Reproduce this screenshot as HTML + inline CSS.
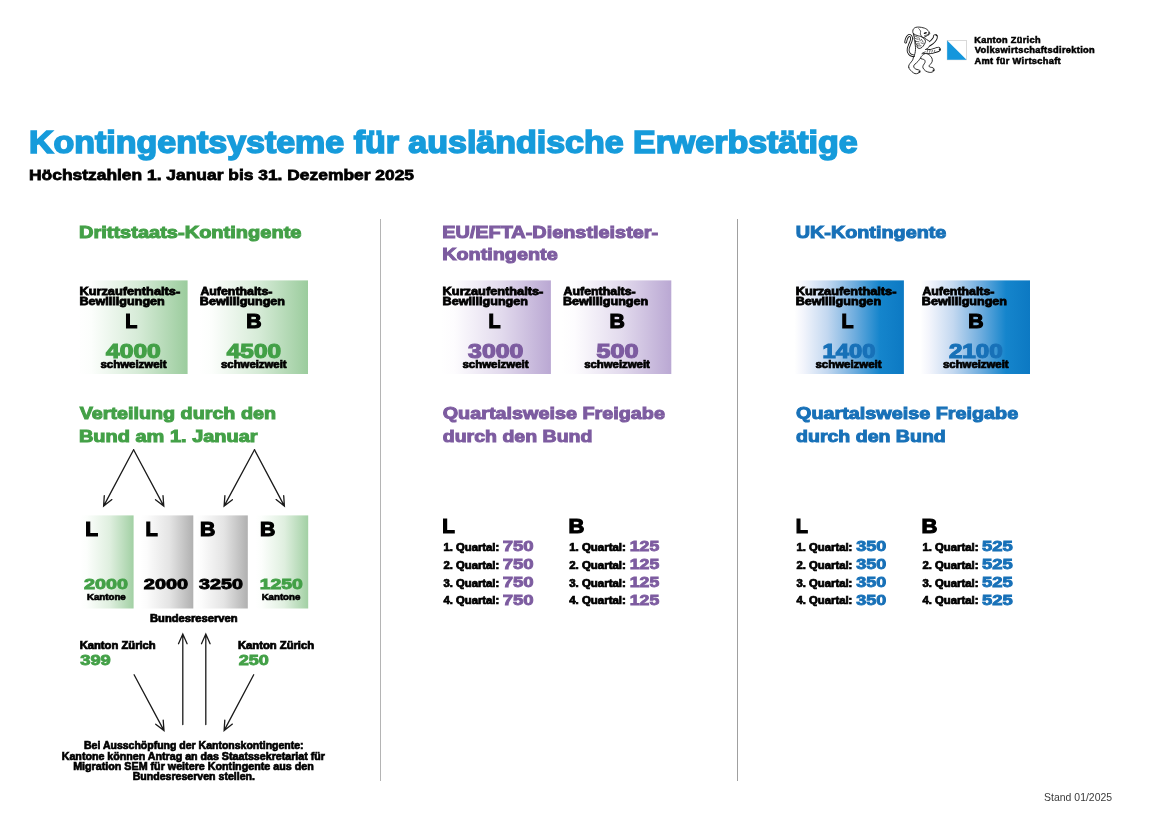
<!DOCTYPE html>
<html lang="de">
<head>
<meta charset="utf-8">
<title>Kontingentsysteme für ausländische Erwerbstätige</title>
<style>
html,body{margin:0;padding:0;background:#fff;}
body{width:1152px;height:814px;overflow:hidden;}
svg{display:block;}
svg text{font-family:"Liberation Sans",Arial,Helvetica,sans-serif;font-weight:bold;white-space:pre;}
</style>
</head>
<body>
<svg width="1152" height="814" viewBox="0 0 1152 814">
<defs>
<linearGradient id="gG" x1="0" x2="1" y1="0" y2="0"><stop offset="0" stop-color="#ffffff"/><stop offset="0.12" stop-color="#fcfefc"/><stop offset="0.55" stop-color="#d6ebd7"/><stop offset="1" stop-color="#9bcc9d"/></linearGradient>
<linearGradient id="gP" x1="0" x2="1" y1="0" y2="0"><stop offset="0" stop-color="#ffffff"/><stop offset="0.12" stop-color="#fdfcfe"/><stop offset="0.55" stop-color="#e2daed"/><stop offset="1" stop-color="#baa8d3"/></linearGradient>
<linearGradient id="gB" x1="0" x2="1" y1="0" y2="0"><stop offset="0" stop-color="#ffffff"/><stop offset="0.08" stop-color="#f3f5fc"/><stop offset="0.3" stop-color="#c3d8f0"/><stop offset="0.55" stop-color="#6fadde"/><stop offset="0.78" stop-color="#1585cc"/><stop offset="1" stop-color="#0c79c3"/></linearGradient>
<linearGradient id="gK" x1="0" x2="1" y1="0" y2="0"><stop offset="0" stop-color="#ffffff"/><stop offset="0.12" stop-color="#fcfcfc"/><stop offset="0.55" stop-color="#e4e4e4"/><stop offset="1" stop-color="#b0b0b0"/></linearGradient>
<linearGradient id="gG2" x1="0" x2="1" y1="0" y2="0"><stop offset="0" stop-color="#ffffff"/><stop offset="0.12" stop-color="#fcfefc"/><stop offset="0.55" stop-color="#dfefdf"/><stop offset="1" stop-color="#a2d0a4"/></linearGradient>
</defs>
<!-- column dividers -->
<rect x="380" y="219" width="1" height="562" fill="#b4b4b4"/>
<rect x="737" y="219" width="1" height="562" fill="#a0a0a0"/>
<!-- logo -->
<g id="logo">
<g id="lion" stroke-linecap="round" stroke-linejoin="round" transform="translate(896 20) scale(0.07369)">
<path d="M262 492C252 489 215 483 200 474C185 465 176 452 170 438C164 424 163 406 166 388C169 370 179 348 186 330C193 312 202 295 206 280C210 265 213 250 210 238C207 226 198 213 190 210C182 207 171 212 163 220C155 228 146 245 141 258C136 271 133 293 131 300" stroke="#141414" stroke-width="38" fill="none"/>
<path d="M262 492C252 489 215 483 200 474C185 465 176 452 170 438C164 424 163 406 166 388C169 370 179 348 186 330C193 312 202 295 206 280C210 265 213 250 210 238C207 226 198 213 190 210C182 207 171 212 163 220C155 228 146 245 141 258C136 271 133 293 131 300" stroke="#fff" stroke-width="14" fill="none"/>
<path d="M243 495C232 508 234 529 225 545C216 561 199 577 190 590C181 603 174 613 172 625C170 637 173 648 180 660C187 672 202 689 215 700C228 711 244 724 258 728C272 732 289 727 300 722C311 717 322 707 325 700C328 693 325 685 318 680C311 675 296 676 285 672C274 668 260 663 252 655C244 647 239 634 240 625C241 616 248 609 258 598C268 587 288 576 300 560C312 544 332 520 330 505C328 490 304 472 290 470C276 468 254 482 243 495Z" stroke="#141414" stroke-width="12" fill="#fff"/>
<path d="M380 424C395 425 444 430 470 428C496 426 518 415 535 410C552 405 566 400 572 398" stroke="#141414" stroke-width="70" fill="none"/>
<path d="M380 424C395 425 444 430 470 428C496 426 518 415 535 410C552 405 566 400 572 398" stroke="#fff" stroke-width="46" fill="none"/>
<path d="M410 350C423 342 468 316 488 300C508 284 520 264 528 252C536 240 533 230 534 226" stroke="#141414" stroke-width="66" fill="none"/>
<path d="M410 350C423 342 468 316 488 300C508 284 520 264 528 252C536 240 533 230 534 226" stroke="#fff" stroke-width="42" fill="none"/>
<path d="M245 200L250 250L258 310L265 370L262 430L250 480L262 520L335 522L356 452L396 434L400 400L440 376L452 288L415 262L370 232L300 195Z" fill="#fff" stroke="none"/>
<path d="M245 200C246 208 248 232 250 250C252 268 256 290 258 310C260 330 264 350 265 370C266 390 264 412 262 430C260 448 253 467 250 478C247 489 245 495 244 498" stroke="#141414" stroke-width="12" fill="none"/>
<path d="M440 376C437 378 427 386 420 390C413 394 403 398 400 400" stroke="#141414" stroke-width="12" fill="none"/>
<path d="M396 434C392 436 377 440 370 444C363 448 355 454 352 456" stroke="#141414" stroke-width="12" fill="none"/>
<path d="M370 234C378 239 401 255 415 264C429 273 446 284 452 288" stroke="#141414" stroke-width="12" fill="none"/>
<path d="M335 522C330 513 341 496 352 485C363 474 383 457 400 455C417 453 438 465 452 475C466 485 479 501 486 515C493 529 495 546 492 560C489 574 476 589 468 600C460 611 446 618 446 625C446 632 456 636 466 640C476 644 496 643 505 650C514 657 520 671 518 680C516 689 503 701 492 706C481 711 465 713 450 710C435 707 414 700 400 690C386 680 371 662 366 650C361 638 365 628 370 615C375 602 392 588 394 575C396 562 395 549 385 540C375 531 340 531 335 522Z" stroke="#141414" stroke-width="12" fill="#fff"/>
<path d="M238 185C228 196 249 222 250 235C251 248 241 254 244 262C247 270 265 276 268 285C271 294 259 309 262 318C265 327 284 330 288 338C292 346 281 360 285 368C289 376 303 385 314 386C325 387 340 381 352 372C364 363 376 346 384 332C392 318 400 303 400 290C400 277 391 262 382 252C373 242 357 242 345 228C333 214 328 177 310 170C292 163 248 174 238 185Z" stroke="#141414" stroke-width="12" fill="#fff"/>
<path d="M238 188C226 177 228 162 228 150C228 138 233 126 240 118C247 110 256 104 268 100C280 96 297 96 310 96C323 96 332 98 345 100C358 102 372 105 385 110C398 115 410 120 420 128C430 136 439 147 445 155C451 163 458 171 458 178C458 185 454 193 448 198C442 203 431 204 425 208C419 212 417 218 410 222C403 226 392 229 385 232C378 235 376 240 368 238C360 236 349 226 338 222C327 218 317 221 300 215C283 209 250 199 238 188Z" stroke="#141414" stroke-width="12" fill="#fff"/>
<path d="M308 118C312 123 330 138 334 150C338 162 327 178 330 190C333 202 347 217 350 222" stroke="#141414" stroke-width="9.600000000000001" fill="none"/>
<path d="M390 210C395 209 411 207 420 205C429 203 441 199 445 198" stroke="#141414" stroke-width="9.600000000000001" fill="none"/>
<ellipse cx="398" cy="176" rx="22" ry="11" fill="#141414" transform="rotate(-15 398 176)"/>
<circle cx="444" cy="176" r="11" fill="#141414" stroke="none"/>
<path d="M252 215C258 218 284 229 290 232" stroke="#141414" stroke-width="9.0" fill="none"/>
<path d="M256 250C263 252 293 260 300 262" stroke="#141414" stroke-width="9.0" fill="none"/>
<path d="M270 290C277 291 305 295 312 296" stroke="#141414" stroke-width="9.0" fill="none"/>
<path d="M282 322C289 323 315 325 322 326" stroke="#141414" stroke-width="9.0" fill="none"/>
<path d="M300 352C307 352 333 350 340 350" stroke="#141414" stroke-width="9.0" fill="none"/>
<path d="M310 240C313 247 327 275 330 282" stroke="#141414" stroke-width="9.0" fill="none"/>
<path d="M345 262C349 268 364 294 368 300" stroke="#141414" stroke-width="9.0" fill="none"/>
<path d="M340 310C345 312 367 320 372 322" stroke="#141414" stroke-width="9.0" fill="none"/>
<path d="M430 412C429 416 423 434 422 438" stroke="#141414" stroke-width="8.399999999999999" fill="none"/>
<path d="M462 412C461 416 455 434 454 438" stroke="#141414" stroke-width="8.399999999999999" fill="none"/>
<path d="M494 412C493 416 487 434 486 438" stroke="#141414" stroke-width="8.399999999999999" fill="none"/>
<path d="M526 412C525 416 519 434 518 438" stroke="#141414" stroke-width="8.399999999999999" fill="none"/>
<circle cx="592" cy="398" r="12" fill="#141414" stroke="none"/>
<circle cx="548" cy="208" r="11" fill="#141414" stroke="none"/>
<circle cx="318" cy="704" r="13" fill="#141414" stroke="none"/>
<circle cx="508" cy="684" r="12" fill="#141414" stroke="none"/>
<circle cx="175" cy="640" r="7" fill="#141414" stroke="none"/>
</g>
<rect x="947.2" y="40.5" width="19.3" height="19.3" fill="#fff" stroke="#c9c9c9" stroke-width="0.7"/>
<path d="M947.2 40.5L966.5 59.8L947.2 59.8Z" fill="#1496dc"/>
</g>
<!-- gradient boxes -->
<rect x="78" y="280.4" width="109.6" height="93.6" fill="url(#gG)"/>
<rect x="198.4" y="280.4" width="109.6" height="93.6" fill="url(#gG)"/>
<rect x="441.2" y="280.4" width="109.7" height="93.6" fill="url(#gP)"/>
<rect x="561.6" y="280.4" width="109.7" height="93.6" fill="url(#gP)"/>
<rect x="794.3" y="280.4" width="109.6" height="93.6" fill="url(#gB)"/>
<rect x="920.4" y="280.4" width="109.6" height="93.6" fill="url(#gB)"/>
<rect x="80.4" y="515.4" width="53.2" height="93.1" fill="url(#gG2)"/>
<rect x="140.3" y="515.4" width="53.0" height="93.1" fill="url(#gK)"/>
<rect x="194.8" y="515.4" width="53.0" height="93.1" fill="url(#gK)"/>
<rect x="255.3" y="515.4" width="52.9" height="93.1" fill="url(#gG2)"/>
<!-- arrows -->
<g fill="none" stroke="#1a1a1a" stroke-width="1.3" stroke-linecap="round" stroke-linejoin="miter">
<path d="M133.6 449.7L103.6 506.1M111.9 499.6L103.6 506.1L104.3 495.6"/>
<path d="M133.6 449.7L163.8 506.1M163.0 495.6L163.8 506.1L155.5 499.7"/>
<path d="M254.5 449.7L224.1 506.1M232.4 499.7L224.1 506.1L224.9 495.6"/>
<path d="M254.5 449.7L284.4 506.1M283.7 495.6L284.4 506.1L276.1 499.6"/>
<path d="M182.8 724.5L182.8 634.1M178.5 643.7L182.8 634.1L187.1 643.7"/>
<path d="M205.8 724.5L205.8 634.1M201.5 643.7L205.8 634.1L210.1 643.7"/>
<path d="M134.1 674.7L164.0 730.6M163.2 720.1L164.0 730.6L155.7 724.2"/>
<path d="M253.7 674.7L224.1 730.6M232.4 724.1L224.1 730.6L224.8 720.1"/>
</g>
<!-- text -->
<text letter-spacing="0.299" transform="translate(974.23 42.54) scale(1.0787 1)" font-size="8.56" fill="#000" stroke="#000" stroke-width="0.51" stroke-linejoin="miter">Kanton Zürich</text>
<text letter-spacing="0.299" transform="translate(974.77 53.24) scale(1.0851 1)" font-size="8.56" fill="#000" stroke="#000" stroke-width="0.51" stroke-linejoin="miter">Volkswirtschaftsdirektion</text>
<text letter-spacing="0.299" transform="translate(974.50 63.94) scale(1.0846 1)" font-size="8.56" fill="#000" stroke="#000" stroke-width="0.51" stroke-linejoin="miter">Amt für Wirtschaft</text>
<text transform="translate(29.03 152.79) scale(1.0934 1)" font-size="31.08" fill="#169bdb" stroke="#169bdb" stroke-width="1.62" stroke-linejoin="miter">Kontingentsysteme für ausländische Erwerbstätige</text>
<text transform="translate(29.04 179.62) scale(1.1468 1)" font-size="15.18" fill="#000" stroke="#000" stroke-width="0.76" stroke-linejoin="miter">Höchstzahlen 1. Januar bis 31. Dezember 2025</text>
<text transform="translate(78.94 237.58) scale(1.1526 1)" font-size="17.38" fill="#43a047" stroke="#43a047" stroke-width="1.04" stroke-linejoin="miter">Drittstaats-Kontingente</text>
<text transform="translate(79.67 418.68) scale(1.1362 1)" font-size="17.38" fill="#43a047" stroke="#43a047" stroke-width="1.04" stroke-linejoin="miter">Verteilung durch den</text>
<text transform="translate(78.94 441.88) scale(1.1496 1)" font-size="17.38" fill="#43a047" stroke="#43a047" stroke-width="1.04" stroke-linejoin="miter">Bund am 1. Januar</text>
<text transform="translate(442.14 237.58) scale(1.1446 1)" font-size="17.38" fill="#7d5ca0" stroke="#7d5ca0" stroke-width="1.04" stroke-linejoin="miter">EU/EFTA-Dienstleister-</text>
<text transform="translate(442.14 260.38) scale(1.1403 1)" font-size="17.38" fill="#7d5ca0" stroke="#7d5ca0" stroke-width="1.04" stroke-linejoin="miter">Kontingente</text>
<text transform="translate(442.72 418.68) scale(1.1383 1)" font-size="17.38" fill="#7d5ca0" stroke="#7d5ca0" stroke-width="1.04" stroke-linejoin="miter">Quartalsweise Freigabe</text>
<text transform="translate(442.72 441.88) scale(1.1244 1)" font-size="17.38" fill="#7d5ca0" stroke="#7d5ca0" stroke-width="1.04" stroke-linejoin="miter">durch den Bund</text>
<text transform="translate(795.73 237.58) scale(1.1384 1)" font-size="17.38" fill="#1871b8" stroke="#1871b8" stroke-width="1.04" stroke-linejoin="miter">UK-Kontingente</text>
<text transform="translate(796.02 418.68) scale(1.1383 1)" font-size="17.38" fill="#1871b8" stroke="#1871b8" stroke-width="1.04" stroke-linejoin="miter">Quartalsweise Freigabe</text>
<text transform="translate(796.02 441.88) scale(1.1244 1)" font-size="17.38" fill="#1871b8" stroke="#1871b8" stroke-width="1.04" stroke-linejoin="miter">durch den Bund</text>
<text transform="translate(79.41 294.82) scale(1.1674 1)" font-size="10.95" fill="#000" stroke="#000" stroke-width="0.77" stroke-linejoin="miter">Kurzaufenthalts-</text>
<text transform="translate(79.41 304.62) scale(1.1510 1)" font-size="10.95" fill="#000" stroke="#000" stroke-width="0.77" stroke-linejoin="miter">Bewilligungen</text>
<text transform="translate(125.25 327.81) scale(0.9956 1)" font-size="19.79" fill="#000" stroke="#000" stroke-width="1.19" stroke-linejoin="miter">L</text>
<text transform="translate(106.12 358.12) scale(1.2674 1)" font-size="19.39" fill="#43a047" stroke="#43a047" stroke-width="1.16" stroke-linejoin="miter">4000</text>
<text transform="translate(100.40 368.44) scale(1.1008 1)" font-size="10.42" fill="#000" stroke="#000" stroke-width="0.73" stroke-linejoin="miter">schweizweit</text>
<text transform="translate(200.38 294.82) scale(1.1297 1)" font-size="10.95" fill="#000" stroke="#000" stroke-width="0.77" stroke-linejoin="miter">Aufenthalts-</text>
<text transform="translate(199.81 304.62) scale(1.1497 1)" font-size="10.95" fill="#000" stroke="#000" stroke-width="0.77" stroke-linejoin="miter">Bewilligungen</text>
<text transform="translate(246.20 327.81) scale(1.0717 1)" font-size="19.79" fill="#000" stroke="#000" stroke-width="1.19" stroke-linejoin="miter">B</text>
<text transform="translate(226.81 358.12) scale(1.2558 1)" font-size="19.39" fill="#43a047" stroke="#43a047" stroke-width="1.16" stroke-linejoin="miter">4500</text>
<text transform="translate(221.00 368.44) scale(1.0909 1)" font-size="10.42" fill="#000" stroke="#000" stroke-width="0.73" stroke-linejoin="miter">schweizweit</text>
<text transform="translate(442.61 294.82) scale(1.1674 1)" font-size="10.95" fill="#000" stroke="#000" stroke-width="0.77" stroke-linejoin="miter">Kurzaufenthalts-</text>
<text transform="translate(442.61 304.62) scale(1.1510 1)" font-size="10.95" fill="#000" stroke="#000" stroke-width="0.77" stroke-linejoin="miter">Bewilligungen</text>
<text transform="translate(488.45 327.81) scale(0.9956 1)" font-size="19.79" fill="#000" stroke="#000" stroke-width="1.19" stroke-linejoin="miter">L</text>
<text transform="translate(468.12 358.12) scale(1.2837 1)" font-size="19.39" fill="#7d5ca0" stroke="#7d5ca0" stroke-width="1.16" stroke-linejoin="miter">3000</text>
<text transform="translate(462.40 368.44) scale(1.1008 1)" font-size="10.42" fill="#000" stroke="#000" stroke-width="0.73" stroke-linejoin="miter">schweizweit</text>
<text transform="translate(563.58 294.82) scale(1.1297 1)" font-size="10.95" fill="#000" stroke="#000" stroke-width="0.77" stroke-linejoin="miter">Aufenthalts-</text>
<text transform="translate(563.01 304.62) scale(1.1497 1)" font-size="10.95" fill="#000" stroke="#000" stroke-width="0.77" stroke-linejoin="miter">Bewilligungen</text>
<text transform="translate(609.40 327.81) scale(1.0717 1)" font-size="19.79" fill="#000" stroke="#000" stroke-width="1.19" stroke-linejoin="miter">B</text>
<text transform="translate(596.50 358.12) scale(1.3000 1)" font-size="19.39" fill="#7d5ca0" stroke="#7d5ca0" stroke-width="1.16" stroke-linejoin="miter">500</text>
<text transform="translate(584.20 368.44) scale(1.0909 1)" font-size="10.42" fill="#000" stroke="#000" stroke-width="0.73" stroke-linejoin="miter">schweizweit</text>
<text transform="translate(795.71 294.82) scale(1.1674 1)" font-size="10.95" fill="#000" stroke="#000" stroke-width="0.77" stroke-linejoin="miter">Kurzaufenthalts-</text>
<text transform="translate(795.71 304.62) scale(1.1510 1)" font-size="10.95" fill="#000" stroke="#000" stroke-width="0.77" stroke-linejoin="miter">Bewilligungen</text>
<text transform="translate(841.55 327.81) scale(0.9956 1)" font-size="19.79" fill="#000" stroke="#000" stroke-width="1.19" stroke-linejoin="miter">L</text>
<text transform="translate(822.58 358.12) scale(1.2238 1)" font-size="19.39" fill="#1871b8" stroke="#1871b8" stroke-width="1.16" stroke-linejoin="miter">1400</text>
<text transform="translate(815.40 368.44) scale(1.1008 1)" font-size="10.42" fill="#000" stroke="#000" stroke-width="0.73" stroke-linejoin="miter">schweizweit</text>
<text transform="translate(922.38 294.82) scale(1.1297 1)" font-size="10.95" fill="#000" stroke="#000" stroke-width="0.77" stroke-linejoin="miter">Aufenthalts-</text>
<text transform="translate(921.81 304.62) scale(1.1497 1)" font-size="10.95" fill="#000" stroke="#000" stroke-width="0.77" stroke-linejoin="miter">Bewilligungen</text>
<text transform="translate(968.20 327.81) scale(1.0717 1)" font-size="19.79" fill="#000" stroke="#000" stroke-width="1.19" stroke-linejoin="miter">B</text>
<text transform="translate(948.90 358.12) scale(1.2491 1)" font-size="19.39" fill="#1871b8" stroke="#1871b8" stroke-width="1.16" stroke-linejoin="miter">2100</text>
<text transform="translate(943.00 368.44) scale(1.0909 1)" font-size="10.42" fill="#000" stroke="#000" stroke-width="0.73" stroke-linejoin="miter">schweizweit</text>
<text transform="translate(85.22 536.00) scale(1.0435 1)" font-size="20.05" fill="#000" stroke="#000" stroke-width="1.20" stroke-linejoin="miter">L</text>
<text transform="translate(145.55 536.00) scale(1.0000 1)" font-size="20.05" fill="#000" stroke="#000" stroke-width="1.20" stroke-linejoin="miter">L</text>
<text transform="translate(200.11 536.00) scale(1.0593 1)" font-size="20.05" fill="#000" stroke="#000" stroke-width="1.20" stroke-linejoin="miter">B</text>
<text transform="translate(260.01 536.00) scale(1.0593 1)" font-size="20.05" fill="#000" stroke="#000" stroke-width="1.20" stroke-linejoin="miter">B</text>
<text transform="translate(84.00 588.74) scale(1.2882 1)" font-size="15.37" fill="#43a047" stroke="#43a047" stroke-width="0.92" stroke-linejoin="miter">2000</text>
<text transform="translate(143.80 588.74) scale(1.2971 1)" font-size="15.37" fill="#000" stroke="#000" stroke-width="0.92" stroke-linejoin="miter">2000</text>
<text transform="translate(199.12 589.04) scale(1.2818 1)" font-size="15.37" fill="#000" stroke="#000" stroke-width="0.92" stroke-linejoin="miter">3250</text>
<text transform="translate(259.67 589.04) scale(1.2627 1)" font-size="15.37" fill="#43a047" stroke="#43a047" stroke-width="0.92" stroke-linejoin="miter">1250</text>
<text transform="translate(86.93 599.68) scale(1.0676 1)" font-size="9.10" fill="#000" stroke="#000" stroke-width="0.64" stroke-linejoin="miter">Kantone</text>
<text transform="translate(261.63 599.78) scale(1.0648 1)" font-size="9.10" fill="#000" stroke="#000" stroke-width="0.64" stroke-linejoin="miter">Kantone</text>
<text transform="translate(150.02 621.85) scale(1.1128 1)" font-size="10.03" fill="#000" stroke="#000" stroke-width="0.70" stroke-linejoin="miter">Bundesreserven</text>
<text transform="translate(79.63 648.54) scale(1.0917 1)" font-size="10.29" fill="#000" stroke="#000" stroke-width="0.72" stroke-linejoin="miter">Kanton Zürich</text>
<text transform="translate(237.93 648.54) scale(1.0946 1)" font-size="10.29" fill="#000" stroke="#000" stroke-width="0.72" stroke-linejoin="miter">Kanton Zürich</text>
<text transform="translate(80.20 664.75) scale(1.2158 1)" font-size="15.11" fill="#43a047" stroke="#43a047" stroke-width="0.91" stroke-linejoin="miter">399</text>
<text transform="translate(238.70 664.75) scale(1.1960 1)" font-size="15.11" fill="#43a047" stroke="#43a047" stroke-width="0.91" stroke-linejoin="miter">250</text>
<text transform="translate(84.04 749.47) scale(1.0280 1)" font-size="10.23" fill="#000" stroke="#000" stroke-width="0.66" stroke-linejoin="miter">Bei Ausschöpfung der Kantonskontingente:</text>
<text transform="translate(61.74 759.67) scale(1.0442 1)" font-size="10.23" fill="#000" stroke="#000" stroke-width="0.66" stroke-linejoin="miter">Kantone können Antrag an das Staatssekretariat für</text>
<text transform="translate(73.14 769.87) scale(1.0496 1)" font-size="10.23" fill="#000" stroke="#000" stroke-width="0.66" stroke-linejoin="miter">Migration SEM für weitere Kontingente aus den</text>
<text transform="translate(132.64 780.27) scale(1.0349 1)" font-size="10.23" fill="#000" stroke="#000" stroke-width="0.66" stroke-linejoin="miter">Bundesreserven stellen.</text>
<text transform="translate(442.34 532.79) scale(1.0128 1)" font-size="20.32" fill="#000" stroke="#000" stroke-width="1.22" stroke-linejoin="miter">L</text>
<text transform="translate(443.40 550.64) scale(1.0857 1)" font-size="10.42" fill="#000" stroke="#000" stroke-width="0.73" stroke-linejoin="miter">1. Quartal:</text>
<text transform="translate(502.69 550.75) scale(1.2283 1)" font-size="15.11" fill="#7d5ca0" stroke="#7d5ca0" stroke-width="0.91" stroke-linejoin="miter">750</text>
<text transform="translate(443.40 568.84) scale(1.0857 1)" font-size="10.42" fill="#000" stroke="#000" stroke-width="0.73" stroke-linejoin="miter">2. Quartal:</text>
<text transform="translate(502.69 568.95) scale(1.2283 1)" font-size="15.11" fill="#7d5ca0" stroke="#7d5ca0" stroke-width="0.91" stroke-linejoin="miter">750</text>
<text transform="translate(443.40 586.74) scale(1.0857 1)" font-size="10.42" fill="#000" stroke="#000" stroke-width="0.73" stroke-linejoin="miter">3. Quartal:</text>
<text transform="translate(502.69 586.85) scale(1.2283 1)" font-size="15.11" fill="#7d5ca0" stroke="#7d5ca0" stroke-width="0.91" stroke-linejoin="miter">750</text>
<text transform="translate(443.40 604.44) scale(1.0857 1)" font-size="10.42" fill="#000" stroke="#000" stroke-width="0.73" stroke-linejoin="miter">4. Quartal:</text>
<text transform="translate(502.69 604.55) scale(1.2283 1)" font-size="15.11" fill="#7d5ca0" stroke="#7d5ca0" stroke-width="0.91" stroke-linejoin="miter">750</text>
<text transform="translate(568.39 532.79) scale(1.0815 1)" font-size="20.32" fill="#000" stroke="#000" stroke-width="1.22" stroke-linejoin="miter">B</text>
<text transform="translate(569.20 550.64) scale(1.0995 1)" font-size="10.42" fill="#000" stroke="#000" stroke-width="0.73" stroke-linejoin="miter">1. Quartal:</text>
<text transform="translate(629.82 550.75) scale(1.1677 1)" font-size="15.11" fill="#7d5ca0" stroke="#7d5ca0" stroke-width="0.91" stroke-linejoin="miter">125</text>
<text transform="translate(569.20 568.84) scale(1.0995 1)" font-size="10.42" fill="#000" stroke="#000" stroke-width="0.73" stroke-linejoin="miter">2. Quartal:</text>
<text transform="translate(629.82 568.95) scale(1.1677 1)" font-size="15.11" fill="#7d5ca0" stroke="#7d5ca0" stroke-width="0.91" stroke-linejoin="miter">125</text>
<text transform="translate(569.20 586.74) scale(1.0995 1)" font-size="10.42" fill="#000" stroke="#000" stroke-width="0.73" stroke-linejoin="miter">3. Quartal:</text>
<text transform="translate(629.82 586.85) scale(1.1677 1)" font-size="15.11" fill="#7d5ca0" stroke="#7d5ca0" stroke-width="0.91" stroke-linejoin="miter">125</text>
<text transform="translate(569.20 604.44) scale(1.0995 1)" font-size="10.42" fill="#000" stroke="#000" stroke-width="0.73" stroke-linejoin="miter">4. Quartal:</text>
<text transform="translate(629.82 604.55) scale(1.1677 1)" font-size="15.11" fill="#7d5ca0" stroke="#7d5ca0" stroke-width="0.91" stroke-linejoin="miter">125</text>
<text transform="translate(795.77 532.79) scale(0.9787 1)" font-size="20.32" fill="#000" stroke="#000" stroke-width="1.22" stroke-linejoin="miter">L</text>
<text transform="translate(796.50 550.64) scale(1.0857 1)" font-size="10.42" fill="#000" stroke="#000" stroke-width="0.73" stroke-linejoin="miter">1. Quartal:</text>
<text transform="translate(856.30 550.75) scale(1.1921 1)" font-size="15.11" fill="#1871b8" stroke="#1871b8" stroke-width="0.91" stroke-linejoin="miter">350</text>
<text transform="translate(796.50 568.84) scale(1.0857 1)" font-size="10.42" fill="#000" stroke="#000" stroke-width="0.73" stroke-linejoin="miter">2. Quartal:</text>
<text transform="translate(856.30 568.95) scale(1.1921 1)" font-size="15.11" fill="#1871b8" stroke="#1871b8" stroke-width="0.91" stroke-linejoin="miter">350</text>
<text transform="translate(796.50 586.74) scale(1.0857 1)" font-size="10.42" fill="#000" stroke="#000" stroke-width="0.73" stroke-linejoin="miter">3. Quartal:</text>
<text transform="translate(856.30 586.85) scale(1.1921 1)" font-size="15.11" fill="#1871b8" stroke="#1871b8" stroke-width="0.91" stroke-linejoin="miter">350</text>
<text transform="translate(796.50 604.44) scale(1.0857 1)" font-size="10.42" fill="#000" stroke="#000" stroke-width="0.73" stroke-linejoin="miter">4. Quartal:</text>
<text transform="translate(856.30 604.55) scale(1.1921 1)" font-size="15.11" fill="#1871b8" stroke="#1871b8" stroke-width="0.91" stroke-linejoin="miter">350</text>
<text transform="translate(921.59 532.79) scale(1.0815 1)" font-size="20.32" fill="#000" stroke="#000" stroke-width="1.22" stroke-linejoin="miter">B</text>
<text transform="translate(922.40 550.64) scale(1.0877 1)" font-size="10.42" fill="#000" stroke="#000" stroke-width="0.73" stroke-linejoin="miter">1. Quartal:</text>
<text transform="translate(981.90 550.75) scale(1.2198 1)" font-size="15.11" fill="#1871b8" stroke="#1871b8" stroke-width="0.91" stroke-linejoin="miter">525</text>
<text transform="translate(922.40 568.84) scale(1.0877 1)" font-size="10.42" fill="#000" stroke="#000" stroke-width="0.73" stroke-linejoin="miter">2. Quartal:</text>
<text transform="translate(981.90 568.95) scale(1.2198 1)" font-size="15.11" fill="#1871b8" stroke="#1871b8" stroke-width="0.91" stroke-linejoin="miter">525</text>
<text transform="translate(922.40 586.74) scale(1.0877 1)" font-size="10.42" fill="#000" stroke="#000" stroke-width="0.73" stroke-linejoin="miter">3. Quartal:</text>
<text transform="translate(981.90 586.85) scale(1.2198 1)" font-size="15.11" fill="#1871b8" stroke="#1871b8" stroke-width="0.91" stroke-linejoin="miter">525</text>
<text transform="translate(922.40 604.44) scale(1.0877 1)" font-size="10.42" fill="#000" stroke="#000" stroke-width="0.73" stroke-linejoin="miter">4. Quartal:</text>
<text transform="translate(981.90 604.55) scale(1.2198 1)" font-size="15.11" fill="#1871b8" stroke="#1871b8" stroke-width="0.91" stroke-linejoin="miter">525</text>
<text transform="translate(1044.12 800.70) scale(0.9600 1)" font-size="10.90" fill="#3a3a3a" style="font-weight:normal">Stand 01/2025</text>
</svg>
</body>
</html>
